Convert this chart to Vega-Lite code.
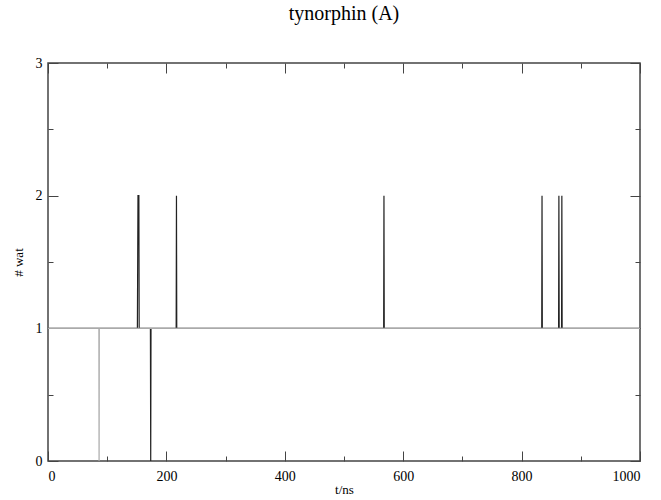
{
  "$schema": "https://vega.github.io/schema/vega-lite/v6.json",
  "autosize": "none",
  "width": 592,
  "height": 398,
  "padding": {"left": 48, "top": 63, "right": 21, "bottom": 39},
  "background": "white",
  "view": {"stroke": "#444", "strokeWidth": 1.5},
  "config": {
    "font": "Liberation Serif",
    "axis": {"grid": false, "domainColor": "#444", "tickColor": "#444", "labelColor": "#000", "titleColor": "#000", "labelFont": "Liberation Serif", "titleFont": "Liberation Serif", "titleFontWeight": "normal", "labelFontSize": 14, "titleFontSize": 13}
  },
  "title": {"text": "tynorphin (A)", "font": "Liberation Serif", "fontSize": 20, "fontWeight": "normal", "offset": 32, "color": "#000"},
  "datasets": {
    "black": [
      {"t": 0, "n": 1}, {"t": 151, "n": 1}, {"t": 152, "n": 2}, {"t": 153.5, "n": 2}, {"t": 154, "n": 1},
      {"t": 173, "n": 1}, {"t": 173.5, "n": 0}, {"t": 174, "n": 1},
      {"t": 216.5, "n": 1}, {"t": 217, "n": 2}, {"t": 217.5, "n": 1},
      {"t": 567, "n": 1}, {"t": 567.5, "n": 2}, {"t": 568, "n": 1},
      {"t": 834, "n": 1}, {"t": 834.5, "n": 2}, {"t": 835, "n": 1},
      {"t": 862.5, "n": 1}, {"t": 863, "n": 2}, {"t": 863.5, "n": 1},
      {"t": 867.5, "n": 1}, {"t": 868, "n": 2}, {"t": 868.5, "n": 1},
      {"t": 1000, "n": 1}
    ],
    "gray": [
      {"t": 0, "n": 1}, {"t": 86, "n": 1}, {"t": 86.3, "n": 0}, {"t": 86.6, "n": 1}, {"t": 1000, "n": 1}
    ]
  },
  "layer": [
    {
      "data": {"name": "black"},
      "mark": {"type": "line", "color": "#222", "strokeWidth": 1.2, "clip": true},
      "encoding": {
        "x": {"field": "t", "type": "quantitative", "scale": {"domain": [0, 1000], "nice": false}, "axis": {"orient": "bottom", "values": [0, 200, 400, 600, 800, 1000], "format": "d", "tickSize": -10, "labelPadding": 18, "labelFont": "serif", "labelFontSize": 14, "domain": false, "title": "t/ns", "titleFont": "serif", "titleFontSize": 13, "titlePadding": 0}},
        "y": {"field": "n", "type": "quantitative", "scale": {"domain": [0, 3], "nice": false}, "axis": {"orient": "left", "values": [0, 1, 2, 3], "format": "d", "tickSize": -10, "labelPadding": 16, "labelFont": "serif", "labelFontSize": 14, "domain": false, "title": "# wat", "titleFont": "serif", "titleFontSize": 13, "titlePadding": 10}}
      }
    },
    {
      "data": {"name": "gray"},
      "mark": {"type": "line", "color": "#aaaaaa", "strokeWidth": 1.2, "clip": true},
      "encoding": {
        "x": {"field": "t", "type": "quantitative", "axis": {"orient": "top", "values": [0, 200, 400, 600, 800, 1000], "tickSize": -10, "labels": false, "domain": false, "title": null}},
        "y": {"field": "n", "type": "quantitative", "axis": {"orient": "right", "values": [0, 1, 2, 3], "tickSize": -10, "labels": false, "domain": false, "title": null}}
      }
    },
    {
      "data": {"name": "gray"},
      "mark": {"type": "line", "opacity": 0},
      "encoding": {
        "x": {"field": "t", "type": "quantitative", "axis": {"orient": "bottom", "values": [100, 300, 500, 700, 900], "tickSize": -5, "labels": false, "domain": false, "title": null}},
        "y": {"field": "n", "type": "quantitative", "axis": {"orient": "left", "values": [0.5, 1.5, 2.5], "tickSize": -5, "labels": false, "domain": false, "title": null}}
      }
    },
    {
      "data": {"name": "gray"},
      "mark": {"type": "line", "opacity": 0},
      "encoding": {
        "x": {"field": "t", "type": "quantitative", "axis": {"orient": "top", "values": [100, 300, 500, 700, 900], "tickSize": -5, "labels": false, "domain": false, "title": null}},
        "y": {"field": "n", "type": "quantitative", "axis": {"orient": "right", "values": [0.5, 1.5, 2.5], "tickSize": -5, "labels": false, "domain": false, "title": null}}
      }
    }
  ],
  "resolve": {"axis": {"x": "independent", "y": "independent"}}
}
